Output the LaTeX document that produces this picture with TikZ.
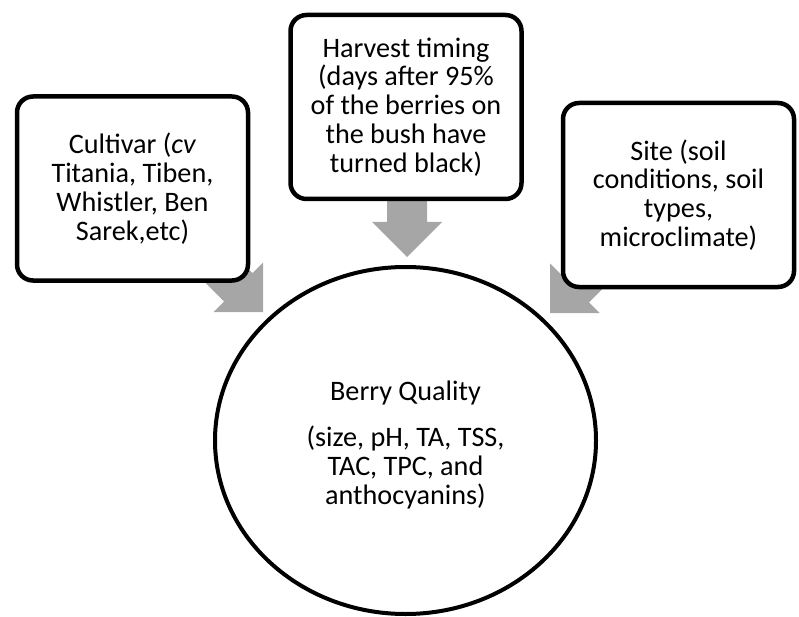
\documentclass[tikz,border=0pt]{standalone}
\usepackage{fontspec}
\setmainfont{Carlito}
\usetikzlibrary{shapes.geometric}
\definecolor{arrowgray}{RGB}{166,166,166}
\begin{document}
\begin{tikzpicture}[x=1pt,y=-1pt,
  txt/.style={font=\fontsize{28.2}{28.8}\selectfont, align=center},
  box/.style={txt, draw=black, line width=4.5pt, fill=white, rounded corners=16pt,
              minimum width=231pt, minimum height=184pt, inner sep=0pt},
  blockarrow/.style={fill=arrowgray, draw=none}]
\useasboundingbox (0,0) rectangle (799,617);
% arrow tips
\coordinate (tipL) at (263,312);
\coordinate (tipT) at (407,257);
\coordinate (tipR) at (550,313);
% block arrows (drawn first, tails hidden beneath the boxes)
\foreach \t/\r in {tipL/-45, tipT/-90, tipR/-135}{
  \path[blockarrow, shift={(\t)}, rotate=\r]
    (0,0) -- (-35,35) -- (-35,20) -- (-85,20) -- (-85,-20) -- (-35,-20) -- (-35,-35) -- cycle;
}
% boxes
\node[box] (cult) at (132.5,188.5) {Cultivar (\textit{cv}\\Titania, Tiben,\\Whistler, Ben\\Sarek,etc)};
\node[box] (harv) at (406,107) {Harvest timing\\(days after 95\%\\of the berries on\\the bush have\\turned black)};
\node[box] (site) at (678.5,195) {Site (soil\\conditions, soil\\types,\\microclimate)};
% central ellipse
\node[ellipse, draw=black, line width=4pt, fill=white, minimum width=381pt, minimum height=347pt, inner sep=0pt] (qual) at (405.5,440.5) {};
\node[txt] (qualtext) at ([yshift=-4.5pt]qual.center) {Berry Quality\\[17pt](size, pH, TA, TSS,\\TAC, TPC, and\\anthocyanins)};
\end{tikzpicture}
\end{document}
